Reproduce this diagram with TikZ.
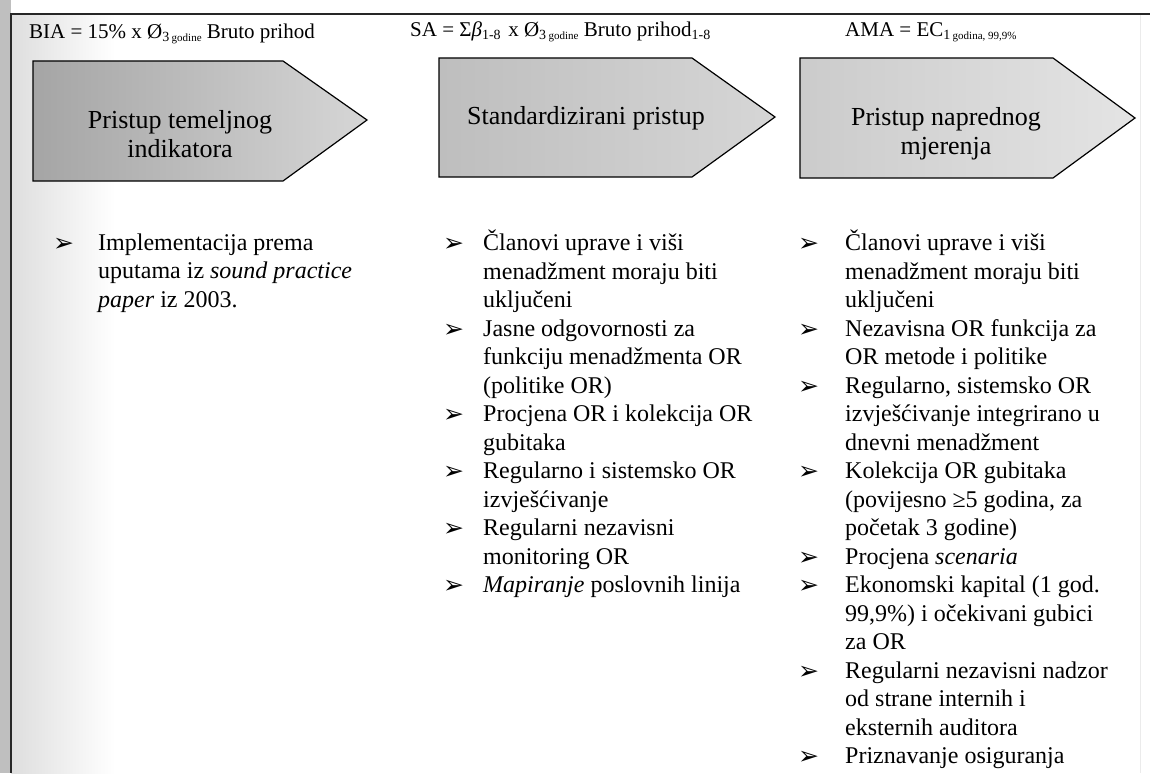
\documentclass[tikz,border=0pt]{standalone}
\usepackage{fontspec}
\setmainfont{Liberation Serif}
\newfontfamily\dejavu{DejaVu Sans}
\usepackage{array}
\usepackage{tikz}
\usetikzlibrary{positioning}

\definecolor{sivaL}{RGB}{165,165,165}
\definecolor{sivaM}{RGB}{190,190,190}
\definecolor{sivaD}{RGB}{214,214,214}
\definecolor{sivaS}{RGB}{228,228,228}

\newcommand\strelica{{\dejavu\fontsize{25}{25}\selectfont\raisebox{-1pt}{➢}}}
\newcommand\donji[2]{\raisebox{-3pt}{\fontsize{14}{14}\selectfont #1\,\fontsize{11}{11}\selectfont #2}}

\begin{document}
\begin{tikzpicture}[x=1pt,y=-1pt,
    rub/.style={draw=black!85, line width=1.5pt},
    strel/.style={draw=black, line width=1.2pt},
    formula/.style={anchor=base west, inner sep=0pt, font=\fontsize{21}{23}\selectfont},
    naslov/.style={align=center, inner sep=0pt, font=\fontsize{26}{29}\selectfont},
    lista/.style={anchor=north west, inner sep=0pt, font=\fontsize{24}{28.5}\selectfont}]
    \useasboundingbox (0,0) rectangle (1150,773);
    % sjena skena i okvir
    \fill[black!25] (0,0) rectangle (11,773);
    \shade[left color=black!13, right color=white] (11,14) rectangle (115,773);
    \draw[rub] (1150,14) -- (11,14) -- (11,773);
    \draw[black!8] (1140,15) -- (1140,773);
    % formule
    \node[formula] (bia) at (29,39) {BIA = 15\% x Ø\donji{3}{godine} Bruto prihod};
    \node[formula] (sa) at (410,37) {SA = Σ\textit{β}\donji{1-8}{} x Ø\donji{3}{godine} Bruto prihod\donji{1-8}{}};
    \node[formula] (ama) at (845,37) {AMA = EC\donji{1}{godina, 99,9\%}};
    % strelice
    \draw[strel, left color=sivaL, right color=sivaD] (33,61) -- (283,61) -- (367,120) -- (283,181) -- (33,181) -- cycle;
    \draw[strel, left color=sivaM, right color=sivaD] (439,58) -- (692,58) -- (775,117) -- (692,177) -- (439,177) -- cycle;
    \draw[strel, left color=sivaD!95!black, right color=sivaS] (800,58) -- (1053,58) -- (1135,118) -- (1053,178) -- (800,178) -- cycle;
    \node[naslov] (bia-t) at (180,134) {Pristup temeljnog\\indikatora};
    \node[naslov] (sa-t) at (586,118) {Standardizirani pristup};
    \node[naslov] (ama-t) at (946,134) {Pristup naprednog\\mjerenja};
    % liste
    \node[lista] (bia-l) at (53,230) {\begin{tabular}{@{}p{45pt}@{}l@{}}
        \strelica & Implementacija prema\\
        & uputama iz \textit{sound practice}\\
        & \textit{paper} iz 2003.
    \end{tabular}};
    \node[lista] (sa-l) at (443,230) {\begin{tabular}{@{}p{40pt}@{}l@{}}
        \strelica & Članovi uprave i viši\\
        & menadžment moraju biti\\
        & uključeni\\
        \strelica & Jasne odgovornosti za\\
        & funkciju menadžmenta OR\\
        & (politike OR)\\
        \strelica & Procjena OR i kolekcija OR\\
        & gubitaka\\
        \strelica & Regularno i sistemsko OR\\
        & izvješćivanje\\
        \strelica & Regularni nezavisni\\
        & monitoring OR\\
        \strelica & \textit{Mapiranje} poslovnih linija
    \end{tabular}};
    \node[lista] (ama-l) at (798,230) {\begin{tabular}{@{}p{47pt}@{}l@{}}
        \strelica & Članovi uprave i viši\\
        & menadžment moraju biti\\
        & uključeni\\
        \strelica & Nezavisna OR funkcija za\\
        & OR metode i politike\\
        \strelica & Regularno, sistemsko OR\\
        & izvješćivanje integrirano u\\
        & dnevni menadžment\\
        \strelica & Kolekcija OR gubitaka\\
        & (povijesno ≥5 godina, za\\
        & početak 3 godine)\\
        \strelica & Procjena \textit{scenaria}\\
        \strelica & Ekonomski kapital (1 god.\\
        & 99,9\%) i očekivani gubici\\
        & za OR\\
        \strelica & Regularni nezavisni nadzor\\
        & od strane internih i\\
        & eksternih auditora\\
        \strelica & Priznavanje osiguranja
    \end{tabular}};
\end{tikzpicture}
\end{document}
